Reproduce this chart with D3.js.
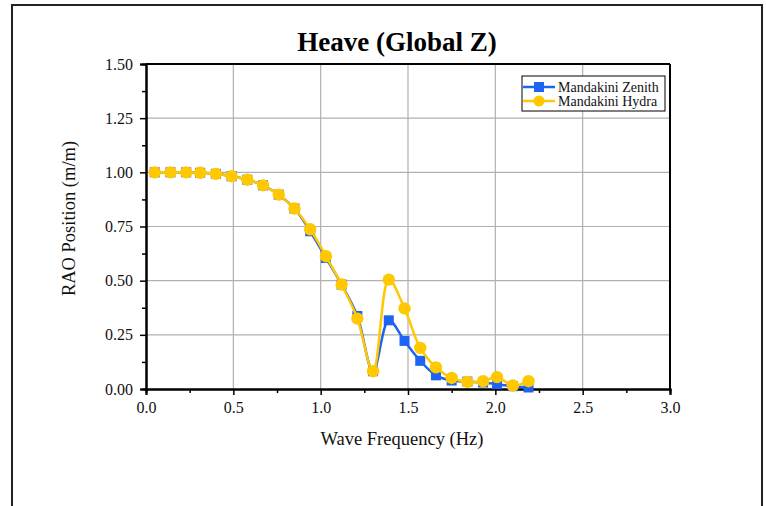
<!DOCTYPE html>
<html>
<head>
<meta charset="utf-8">
<script src="https://cdn.jsdelivr.net/npm/d3@7"></script>
<style>
  body { margin: 0; background: #fff; }
  svg { display: block; font-family: "Liberation Serif", "Times New Roman", serif; }
</style>
</head>
<body>
<div id="chart"></div>
<script>
const width = 766;
const height = 506;
const margin = { top: 64, right: 96, bottom: 117, left: 146 };

const freq = [0.05, 0.14, 0.23, 0.31, 0.40, 0.49, 0.58, 0.67, 0.76, 0.85, 0.94, 1.03, 1.12,
    1.21, 1.30, 1.39, 1.48, 1.57, 1.66, 1.75, 1.84, 1.93, 2.01, 2.10, 2.19];
const zenith = [1.0, 1.0, 1.0, 0.998, 0.993, 0.982, 0.966, 0.94, 0.897, 0.833, 0.728, 0.605, 0.482,
    0.337, 0.082, 0.317, 0.222, 0.130, 0.063, 0.039, 0.034, 0.030, 0.022, 0.013, 0.007];
const hydra = [1.0, 1.0, 1.0, 0.998, 0.993, 0.982, 0.966, 0.94, 0.897, 0.833, 0.737, 0.613, 0.482,
    0.325, 0.082, 0.505, 0.372, 0.190, 0.100, 0.051, 0.033, 0.036, 0.055, 0.016, 0.036];
const xTicks = [0, 0.5, 1.0, 1.5, 2.0, 2.5, 3.0];
const yTicks = [0, 0.25, 0.5, 0.75, 1.0, 1.25, 1.5];

const seriesList = [
    { name: "Mandakini Zenith", values: zenith, color: "#1f63f2", marker: "square" },
    { name: "Mandakini Hydra", values: hydra, color: "#ffc800", marker: "circle" }
];

const svg = d3.select("#chart").append("svg")
    .attr("width", width)
    .attr("height", height);

// outer frame
svg.append("rect")
    .attr("x", 12).attr("y", 5)
    .attr("width", 750).attr("height", 520)
    .attr("fill", "none")
    .attr("stroke", "#222")
    .attr("stroke-width", 2);

const x = d3.scaleLinear().domain([0, 3]).range([margin.left, width - margin.right]);
const y = d3.scaleLinear().domain([0, 1.5]).range([height - margin.bottom, margin.top]);

// grid
svg.append("g")
    .selectAll("line.vgrid")
    .data(xTicks.slice(1, -1))
    .join("line")
    .attr("x1", d => x(d)).attr("x2", d => x(d))
    .attr("y1", y(0)).attr("y2", y(1.5))
    .attr("stroke", "#b0b0b0").attr("stroke-width", 1.2);

svg.append("g")
    .selectAll("line.hgrid")
    .data(yTicks.slice(1, -1))
    .join("line")
    .attr("x1", x(0)).attr("x2", x(3))
    .attr("y1", d => y(d)).attr("y2", d => y(d))
    .attr("stroke", "#b0b0b0").attr("stroke-width", 1.2);

// axes
const xAxis = svg.append("g")
    .attr("transform", `translate(0,${y(0)})`)
    .call(d3.axisBottom(x).tickValues(xTicks).tickFormat(d3.format(".1f")).tickSize(6).tickPadding(7));
const xMinor = svg.append("g")
    .attr("transform", `translate(0,${y(0)})`)
    .call(d3.axisBottom(x).tickValues(d3.range(0.25, 3, 0.5)).tickFormat("").tickSize(4));

const yAxis = svg.append("g")
    .attr("transform", `translate(${x(0)},0)`)
    .call(d3.axisLeft(y).tickValues(yTicks).tickFormat(d3.format(".2f")).tickSize(6).tickPadding(7));
const yMinor = svg.append("g")
    .attr("transform", `translate(${x(0)},0)`)
    .call(d3.axisLeft(y).tickValues(d3.range(0.125, 1.5, 0.25)).tickFormat("").tickSize(4));

[xAxis, xMinor, yAxis, yMinor].forEach(g => {
    g.selectAll(".domain").attr("stroke", "#000").attr("stroke-width", 2);
    g.selectAll(".tick line").attr("stroke", "#000").attr("stroke-width", 1.5);
    g.selectAll("text").attr("font-size", "16px").attr("font-family", "Liberation Serif").attr("fill", "#111");
});

// top and right frame of the plot
svg.append("line")
    .attr("x1", x(0)).attr("x2", x(3)).attr("y1", y(1.5)).attr("y2", y(1.5))
    .attr("stroke", "#000").attr("stroke-width", 2);
svg.append("line")
    .attr("x1", x(3)).attr("x2", x(3)).attr("y1", y(1.5)).attr("y2", y(0))
    .attr("stroke", "#000").attr("stroke-width", 2);

// lines and markers
const line = d3.line()
    .x((d, i) => x(freq[i]))
    .y(d => y(d))
    .curve(d3.curveCatmullRom.alpha(0.5));

seriesList.forEach(s => {
    svg.append("path")
        .datum(s.values)
        .attr("fill", "none")
        .attr("stroke", s.color)
        .attr("stroke-width", 2.5)
        .attr("d", line);

    if (s.marker === "square") {
        svg.append("g").selectAll("rect")
            .data(s.values)
            .join("rect")
            .attr("x", (d, i) => x(freq[i]) - 5)
            .attr("y", d => y(d) - 5)
            .attr("width", 10).attr("height", 10)
            .attr("fill", s.color);
    } else {
        svg.append("g").selectAll("circle")
            .data(s.values)
            .join("circle")
            .attr("cx", (d, i) => x(freq[i]))
            .attr("cy", d => y(d))
            .attr("r", 6.2)
            .attr("fill", s.color);
    }
});

// title
svg.append("text")
    .attr("x", 397)
    .attr("y", 51)
    .attr("text-anchor", "middle")
    .attr("font-size", "27px")
    .attr("font-weight", "bold")
    .attr("fill", "#000")
    .text("Heave (Global Z)");

// axis titles
svg.append("text")
    .attr("x", 402)
    .attr("y", 445)
    .attr("text-anchor", "middle")
    .attr("font-size", "18.5px")
    .attr("fill", "#111")
    .text("Wave Frequency (Hz)");

svg.append("text")
    .attr("transform", `translate(75,${y(0.75) - 8}) rotate(-90)`)
    .attr("text-anchor", "middle")
    .attr("font-size", "18.5px")
    .attr("fill", "#111")
    .text("RAO Position (m/m)");

// legend
const legend = svg.append("g").attr("transform", "translate(522,76)");
legend.append("rect")
    .attr("width", 143).attr("height", 35)
    .attr("fill", "#fff")
    .attr("stroke", "#000").attr("stroke-width", 1);

seriesList.forEach((s, i) => {
    const ly = 11 + i * 14;
    legend.append("line")
        .attr("x1", 1).attr("x2", 33).attr("y1", ly).attr("y2", ly)
        .attr("stroke", s.color).attr("stroke-width", 2.5);
    if (s.marker === "square") {
        legend.append("rect")
            .attr("x", 12).attr("y", ly - 5).attr("width", 10).attr("height", 10)
            .attr("fill", s.color);
    } else {
        legend.append("circle")
            .attr("cx", 17).attr("cy", ly).attr("r", 5.5)
            .attr("fill", s.color);
    }
    legend.append("text")
        .attr("x", 36).attr("y", ly + 4.5)
        .attr("font-size", "14px")
        .attr("fill", "#111")
        .text(s.name);
});
</script>
</body>
</html>
